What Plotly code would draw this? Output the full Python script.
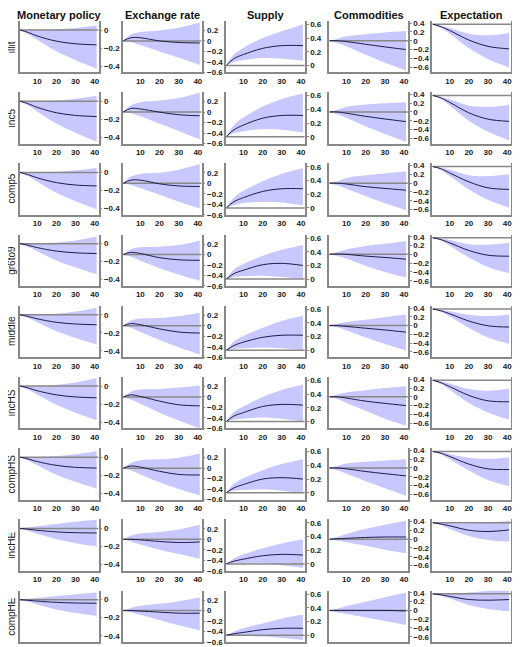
import plotly.graph_objects as go
from plotly.subplots import make_subplots

columns = ["Monetary policy", "Exchange rate", "Supply", "Commodities", "Expectation"]
rows = ["illit", "inc5", "comp5", "gr6to9", "middle", "incHS", "compHS", "incHE", "compHE"]
horizon = [1, 5, 10, 20, 30, 41]

# monetary policy
mp_med = [[0, -0.025, -0.066, -0.124, -0.153, -0.165], [0, -0.026, -0.068, -0.128, -0.158, -0.17],
          [0, -0.023, -0.06, -0.113, -0.14, -0.15], [0, -0.017, -0.044, -0.083, -0.102, -0.11],
          [0, -0.017, -0.044, -0.083, -0.102, -0.11], [0, -0.02, -0.052, -0.098, -0.121, -0.13],
          [0, -0.018, -0.048, -0.09, -0.112, -0.12], [0, -0.008, -0.02, -0.038, -0.047, -0.05],
          [0, -0.006, -0.016, -0.03, -0.037, -0.04]]
mp_lo = [[0, -0.043, -0.108, -0.237, -0.335, -0.43], [0, -0.045, -0.113, -0.248, -0.351, -0.45],
         [0, -0.041, -0.103, -0.226, -0.32, -0.41], [0, -0.034, -0.085, -0.187, -0.265, -0.34],
         [0, -0.033, -0.083, -0.182, -0.257, -0.33], [0, -0.038, -0.095, -0.209, -0.296, -0.38],
         [0, -0.035, -0.088, -0.193, -0.273, -0.35], [0, -0.024, -0.06, -0.12, -0.164, -0.2],
         [0, -0.022, -0.054, -0.108, -0.148, -0.18]]
mp_hi = [[0, 0, 0.001, 0.008, 0.023, 0.05], [0, 0, 0.001, 0.009, 0.027, 0.06],
         [0, 0, 0.001, 0.008, 0.023, 0.05], [0, 0, 0.002, 0.012, 0.036, 0.08],
         [0, 0, 0.002, 0.012, 0.036, 0.08], [0, 0, 0.002, 0.014, 0.04, 0.09],
         [0, 0, 0.001, 0.011, 0.032, 0.07], [0, 0.01, 0.025, 0.05, 0.075, 0.1],
         [0, 0.008, 0.02, 0.04, 0.06, 0.08]]

# exchange rate
er_med = [[0, 0.06, 0.06, 0.0, -0.03, -0.04], [0, 0.07, 0.06, 0.0, -0.05, -0.07],
          [0, 0.06, 0.06, -0.01, -0.05, -0.06], [0, 0.04, 0.02, -0.06, -0.1, -0.11],
          [0, 0.04, 0.02, -0.06, -0.12, -0.14], [0, 0.04, 0.01, -0.08, -0.15, -0.17],
          [0, 0.04, 0.02, -0.06, -0.12, -0.13], [0, 0.0, -0.01, -0.04, -0.06, -0.05],
          [0, 0.0, -0.01, -0.03, -0.05, -0.05]]
er_lo = [[0, -0.02, -0.08, -0.2, -0.32, -0.46], [0, -0.02, -0.08, -0.22, -0.36, -0.52],
         [0, -0.03, -0.09, -0.22, -0.35, -0.48], [0, -0.04, -0.12, -0.26, -0.38, -0.5],
         [0, -0.04, -0.12, -0.27, -0.41, -0.55], [0, -0.05, -0.13, -0.3, -0.45, -0.6],
         [0, -0.04, -0.12, -0.27, -0.4, -0.52], [0, -0.04, -0.1, -0.2, -0.28, -0.37],
         [0, -0.03, -0.08, -0.18, -0.28, -0.38]]
er_hi = [[0, 0.12, 0.17, 0.2, 0.25, 0.35], [0, 0.13, 0.19, 0.22, 0.27, 0.37],
         [0, 0.13, 0.18, 0.2, 0.26, 0.37], [0, 0.1, 0.14, 0.15, 0.18, 0.27],
         [0, 0.1, 0.14, 0.15, 0.18, 0.25], [0, 0.1, 0.14, 0.15, 0.18, 0.22],
         [0, 0.1, 0.15, 0.17, 0.2, 0.28], [0, 0.07, 0.11, 0.14, 0.19, 0.28],
         [0, 0.05, 0.09, 0.13, 0.18, 0.25]]

# supply
su_med = [[0, 0.1, 0.16, 0.25, 0.29, 0.29], [0, 0.1, 0.17, 0.27, 0.31, 0.31],
          [0, 0.09, 0.15, 0.24, 0.28, 0.28], [0, 0.08, 0.13, 0.21, 0.23, 0.2],
          [0, 0.07, 0.12, 0.19, 0.22, 0.22], [0, 0.08, 0.13, 0.22, 0.25, 0.24],
          [0, 0.07, 0.12, 0.2, 0.22, 0.2], [0, 0.04, 0.07, 0.12, 0.14, 0.13],
          [0, 0.02, 0.04, 0.08, 0.1, 0.1]]
su_lo = [[0, 0.05, 0.08, 0.11, 0.1, 0.07], [0, 0.05, 0.08, 0.11, 0.1, 0.06],
         [0, 0.04, 0.07, 0.09, 0.08, 0.04], [0, 0.03, 0.04, 0.05, 0.03, 0.0],
         [0, 0.02, 0.03, 0.04, 0.03, 0.0], [0, 0.03, 0.04, 0.06, 0.04, 0.0],
         [0, 0.03, 0.04, 0.05, 0.03, -0.01], [0, 0.01, 0.01, 0.01, -0.02, -0.06],
         [0, 0.0, -0.01, -0.02, -0.04, -0.07]]
su_hi = [[0, 0.16, 0.26, 0.4, 0.5, 0.6], [0, 0.17, 0.28, 0.44, 0.55, 0.63],
         [0, 0.15, 0.25, 0.39, 0.5, 0.58], [0, 0.14, 0.22, 0.34, 0.43, 0.5],
         [0, 0.13, 0.21, 0.33, 0.43, 0.5], [0, 0.14, 0.22, 0.36, 0.46, 0.54],
         [0, 0.13, 0.21, 0.33, 0.42, 0.49], [0, 0.08, 0.14, 0.23, 0.3, 0.36],
         [0, 0.05, 0.1, 0.17, 0.24, 0.3]]

# commodities
co_med = [[0, 0.0, -0.02, -0.08, -0.14, -0.2], [0, 0.0, -0.03, -0.1, -0.16, -0.22],
          [0, 0.0, -0.02, -0.08, -0.12, -0.16], [0, 0.01, 0.0, -0.04, -0.07, -0.11],
          [0, 0.0, -0.02, -0.06, -0.1, -0.15], [0, 0.0, -0.03, -0.1, -0.15, -0.2],
          [0, 0.0, -0.02, -0.08, -0.13, -0.18], [0, 0.01, 0.02, 0.04, 0.05, 0.05],
          [0, 0.0, 0.0, 0.0, 0.0, -0.01]]
co_lo = [[0, -0.05, -0.13, -0.32, -0.5, -0.68], [0, -0.05, -0.14, -0.33, -0.5, -0.68],
         [0, -0.05, -0.13, -0.3, -0.46, -0.62], [0, -0.04, -0.1, -0.26, -0.4, -0.53],
         [0, -0.04, -0.11, -0.27, -0.42, -0.57], [0, -0.05, -0.14, -0.32, -0.5, -0.66],
         [0, -0.05, -0.13, -0.3, -0.46, -0.63], [0, -0.03, -0.07, -0.15, -0.24, -0.32],
         [0, -0.04, -0.08, -0.16, -0.24, -0.33]]
co_hi = [[0, 0.04, 0.1, 0.15, 0.19, 0.22], [0, 0.05, 0.12, 0.17, 0.2, 0.22],
         [0, 0.04, 0.12, 0.18, 0.22, 0.27], [0, 0.05, 0.11, 0.19, 0.24, 0.3],
         [0, 0.04, 0.08, 0.13, 0.19, 0.25], [0, 0.05, 0.1, 0.15, 0.2, 0.24],
         [0, 0.04, 0.1, 0.14, 0.17, 0.2], [0, 0.05, 0.12, 0.24, 0.33, 0.42],
         [0, 0.04, 0.1, 0.2, 0.3, 0.4]]

# expectation
ex_med = [[0, -0.07, -0.2, -0.5, -0.7, -0.78], [0, -0.07, -0.22, -0.55, -0.75, -0.82],
          [0, -0.06, -0.2, -0.48, -0.67, -0.72], [0, -0.05, -0.16, -0.4, -0.55, -0.58],
          [0, -0.05, -0.15, -0.38, -0.53, -0.57], [0, -0.07, -0.2, -0.48, -0.65, -0.68],
          [0, -0.05, -0.16, -0.4, -0.55, -0.57], [0, -0.04, -0.1, -0.24, -0.28, -0.23],
          [0, -0.03, -0.08, -0.18, -0.2, -0.18]]
ex_lo = [[0, -0.1, -0.3, -0.75, -1.1, -1.37], [0, -0.1, -0.32, -0.8, -1.15, -1.42],
         [0, -0.09, -0.3, -0.72, -1.05, -1.3], [0, -0.08, -0.25, -0.62, -0.92, -1.12],
         [0, -0.08, -0.24, -0.6, -0.9, -1.1], [0, -0.1, -0.3, -0.72, -1.02, -1.25],
         [0, -0.08, -0.25, -0.6, -0.9, -1.1], [0, -0.07, -0.2, -0.42, -0.55, -0.6],
         [0, -0.05, -0.15, -0.35, -0.48, -0.55]]
ex_hi = [[0, -0.04, -0.12, -0.3, -0.35, -0.28], [0, -0.04, -0.12, -0.32, -0.36, -0.3],
         [0, -0.03, -0.1, -0.27, -0.3, -0.24], [0, -0.02, -0.07, -0.2, -0.22, -0.16],
         [0, -0.02, -0.07, -0.18, -0.22, -0.17], [0, -0.03, -0.1, -0.28, -0.33, -0.27],
         [0, -0.03, -0.08, -0.2, -0.23, -0.19], [0, 0.0, -0.02, -0.03, 0.0, 0.05],
         [0, 0.0, 0.0, 0.04, 0.1, 0.17]]

shocks = [(mp_med, mp_lo, mp_hi), (er_med, er_lo, er_hi), (su_med, su_lo, su_hi),
          (co_med, co_lo, co_hi), (ex_med, ex_lo, ex_hi)]
y_ranges = [[-0.47, 0.1], [-0.6, 0.38], [-0.1, 0.65], [-0.72, 0.45], [-1.52, 0.1]]
y_ticks = [[-0.4, -0.2, 0], [-0.6, -0.4, -0.2, 0, 0.2], [0, 0.2, 0.4, 0.6],
           [-0.6, -0.4, -0.2, 0, 0.2, 0.4], [-1.5, -1, -0.5, 0]]

fig = make_subplots(rows=9, cols=5, horizontal_spacing=0.05, vertical_spacing=0.032)

band = "rgba(200,200,255,1)"
tick_font = dict(size=8, family="Arial", color="#222", weight="bold")
for c, (med, lo, hi) in enumerate(shocks):
    for r in range(9):
        fig.add_trace(go.Scatter(x=horizon, y=lo[r], mode="lines", line=dict(width=0, shape="spline"),
                                 showlegend=False, hoverinfo="skip"), row=r + 1, col=c + 1)
        fig.add_trace(go.Scatter(x=horizon, y=hi[r], mode="lines", line=dict(width=0, shape="spline"),
                                 fill="tonexty", fillcolor=band, showlegend=False, hoverinfo="skip"),
                      row=r + 1, col=c + 1)
        fig.add_trace(go.Scatter(x=[1, 42], y=[0, 0], mode="lines", line=dict(color="#888888", width=1.5),
                                 showlegend=False, hoverinfo="skip"), row=r + 1, col=c + 1)
        fig.add_trace(go.Scatter(x=horizon, y=med[r], mode="lines",
                                 line=dict(color="#1c1c4a", width=1, shape="spline"),
                                 showlegend=False), row=r + 1, col=c + 1)
        fig.update_xaxes(range=[1, 42], tickvals=[10, 20, 30, 40], showline=True, linecolor="#888888",
                         linewidth=1.5, ticks="", showgrid=False, zeroline=False, automargin=False,
                         tickfont=tick_font, row=r + 1, col=c + 1)
        fig.update_yaxes(range=y_ranges[c], tickvals=y_ticks[c], side="right", showline=True, mirror=True,
                         linecolor="#888888", linewidth=1.5, ticks="outside", ticklen=2, tickcolor="#888888",
                         showgrid=False, zeroline=False, automargin=False,
                         tickfont=tick_font, row=r + 1, col=c + 1)

for c, name in enumerate(columns):
    fig.add_annotation(text="<b>" + name + "</b>", xref="x%s domain" % ("" if c == 0 else c + 1), yref="paper",
                       x=0.5, y=1, yanchor="bottom", yshift=-2, showarrow=False,
                       font=dict(size=11, family="Arial", color="#111"))
for r, name in enumerate(rows):
    ax = r * 5 + 1
    fig.add_annotation(text=name, xref="paper", yref="y%s domain" % ("" if ax == 1 else ax),
                       x=0, y=0.5, xanchor="right", xshift=-1, textangle=-90, showarrow=False,
                       font=dict(size=10, family="Arial", color="#222"))

fig.update_layout(width=520, height=647, margin=dict(l=12, r=17, t=13, b=13, autoexpand=False),
                  plot_bgcolor="white", paper_bgcolor="white")
fig.write_html("out.html")
